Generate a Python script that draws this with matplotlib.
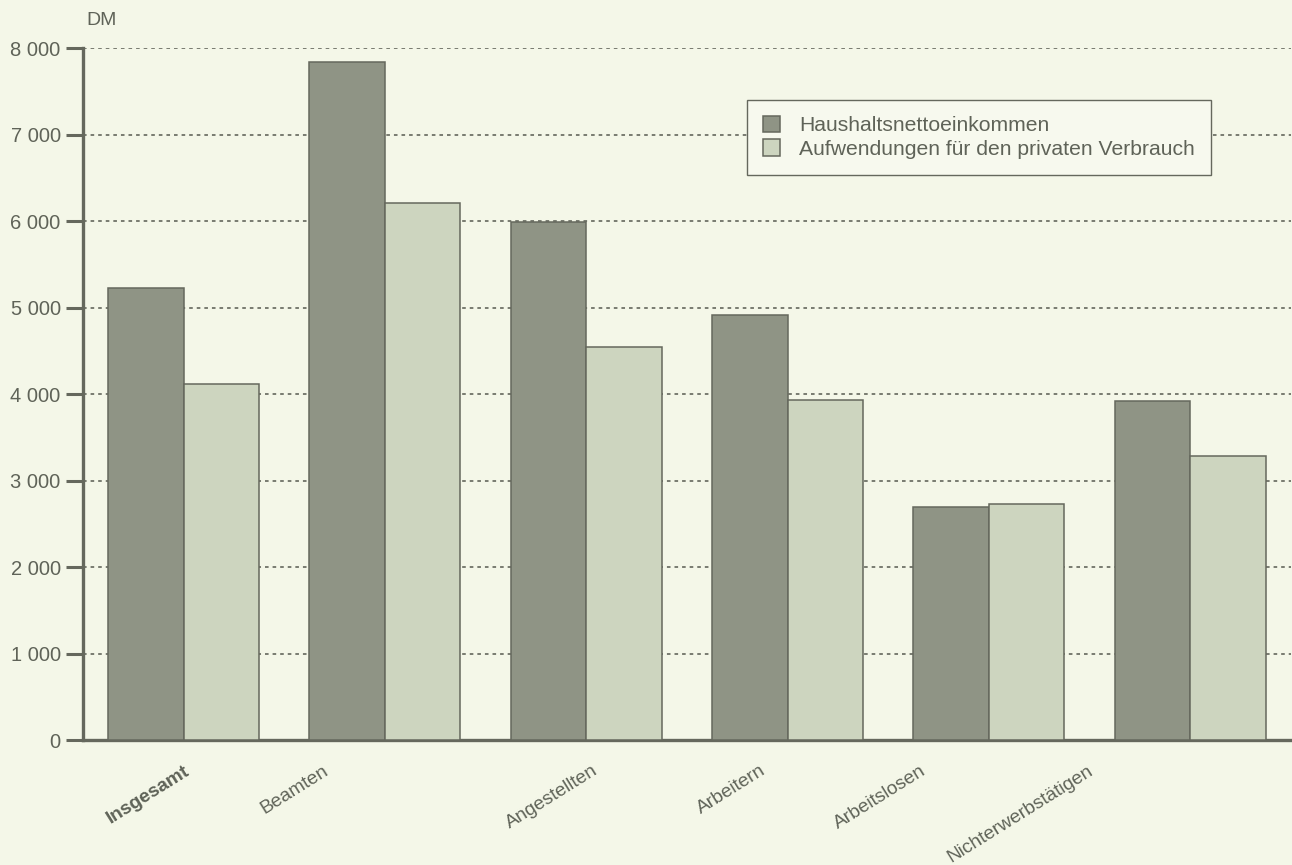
"""Haushaltsnettoeinkommen vs. private Konsumausgaben nach sozialer Stellung."""
import matplotlib
matplotlib.use("Agg")
import matplotlib.pyplot as plt
import numpy as np
from matplotlib.ticker import FuncFormatter

categories = ["Insgesamt", "Beamten", "Angestellten", "Arbeitern",
              "Arbeitslosen", "Nichterwerbstätigen"]
einkommen = [5225, 7840, 5990, 4915, 2695, 3920]
verbrauch = [4115, 6210, 4545, 3930, 2730, 3285]
series_names = ["Haushaltsnettoeinkommen", "Aufwendungen für den privaten Verbrauch"]
yticks = [0, 1000, 2000, 3000, 4000, 5000, 6000, 7000, 8000]

BG = "#f4f7e8"
DARK = "#8f9485"
LIGHT = "#cdd5bf"
INK = "#5f6358"
EDGE = "#65685d"

plt.rcParams["font.family"] = ["Liberation Sans", "DejaVu Sans"]

fig = plt.figure(figsize=(12.92, 8.65), dpi=100, facecolor=BG)
ax = fig.add_axes([0.0642, 0.1445, 0.935, 0.80], facecolor=BG)

x = np.arange(len(categories))
w = 0.375
ax.bar(x - w / 2, einkommen, w, color=DARK, edgecolor=EDGE, linewidth=1.1,
       label=series_names[0], zorder=3)
ax.bar(x + w / 2, verbrauch, w, color=LIGHT, edgecolor=EDGE, linewidth=1.1,
       label=series_names[1], zorder=3)

ax.set_xlim(-0.5, 5.5)
ax.set_ylim(0, 8000)
ax.set_yticks(yticks)
ax.yaxis.set_major_formatter(FuncFormatter(lambda v, _: f"{int(v):,}".replace(",", " ")))
ax.tick_params(axis="y", direction="out", length=12, width=2.2, color=EDGE,
               labelsize=14.5, labelcolor=INK, pad=4)
ax.tick_params(axis="x", length=0, labelbottom=False)
ax.grid(axis="y", color="#6f7267", linestyle=(0, (2, 2.2)), linewidth=1.3, zorder=1)

for side in ("top", "right"):
    ax.spines[side].set_visible(False)
for side in ("left", "bottom"):
    ax.spines[side].set_color(EDGE)
    ax.spines[side].set_linewidth(2.4)

# slanted category names, anchored at their upper right end below the axis
label_shift = [0.0, -0.31, 0.03, -0.14, -0.34, -0.51]
for i, (name, dx) in enumerate(zip(categories, label_shift)):
    ax.annotate(name, xy=(x[i] + dx, 0), xycoords=("data", "axes fraction"),
                xytext=(0, -16), textcoords="offset points",
                ha="right", va="top", rotation=32, rotation_mode="anchor",
                fontsize=13.8, color=INK,
                fontweight="bold" if i == 0 else "normal")

ax.text(0.003, 1.028, "DM", transform=ax.transAxes, fontsize=14, color=INK,
        ha="left", va="bottom")

leg = ax.legend(loc="upper left", bbox_to_anchor=(0.55, 0.925), fontsize=15.2,
                frameon=True, fancybox=False, edgecolor=EDGE, facecolor="#f7f9ee",
                framealpha=1.0, handlelength=0.8, handleheight=0.8,
                handletextpad=0.9, borderpad=0.75, labelspacing=0.2,
                borderaxespad=0)
leg.get_frame().set_linewidth(1.0)
for t in leg.get_texts():
    t.set_color(INK)

fig.savefig("out.png", dpi=100, facecolor=BG)
